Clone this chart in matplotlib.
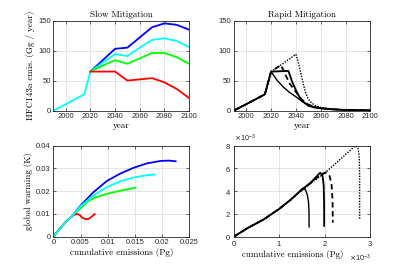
import numpy as np
import matplotlib.pyplot as plt
from matplotlib.ticker import ScalarFormatter

# ---- slow mitigation emissions (Gg / year) ----
years_hist = [1990, 2000, 2015, 2020]
emis_hist = [0, 10.5, 27, 65]
years_slow = [2020, 2030, 2040, 2050, 2060, 2070, 2080, 2090, 2100]
slow_blue = [65, 84, 103, 105, 122, 139, 145.5, 143, 135]
slow_cyan = [65, 80, 94, 91, 105, 118, 120.5, 116, 106]
slow_green = [65, 75, 84, 78, 87, 96, 96, 89, 78]
slow_red = [65, 65, 65, 50, 52, 54, 47, 36, 21]

# ---- rapid mitigation emissions (Gg / year) ----
rap1_years = [1990, 2000, 2015, 2020, 2025, 2030, 2035, 2040, 2045, 2050, 2055, 2060, 2070, 2080, 2090, 2100]
rap1 = [0, 10.5, 27, 65, 50, 39, 30, 23, 15, 9, 6, 4, 2, 1, 0.5, 0.3]
rap2_years = [1990, 2000, 2015, 2020, 2034, 2037, 2040, 2044, 2050, 2055, 2060, 2070, 2080, 2090, 2100]
rap2 = [0, 10.5, 27, 65, 66, 48, 34, 18, 8, 5, 3.5, 1.8, 0.9, 0.5, 0.3]
rap3_years = [1990, 2000, 2015, 2020, 2028, 2031, 2035, 2040, 2045, 2050, 2055, 2060, 2070, 2080, 2090, 2100]
rap3 = [0, 10.5, 27, 65, 76, 62, 45, 31, 18, 10, 6, 4, 2, 1, 0.5, 0.3]
rap4_years = [1990, 2000, 2015, 2020, 2030, 2040, 2042, 2044, 2046, 2048, 2050, 2053, 2056, 2060, 2070, 2080, 2090, 2100]
rap4 = [0, 10.5, 27, 65, 79, 94, 80, 62, 44, 29, 19, 12, 8, 5, 2.2, 1, 0.5, 0.3]

# ---- slow mitigation: warming (K) vs cumulative emissions (Pg) ----
trunk_x = [0, 0.0012, 0.00247, 0.0033]
trunk_y = [0, 0.0036, 0.0070, 0.0087]
cum_blue = [0.005, 0.00741, 0.00988, 0.01235, 0.01481, 0.01728, 0.01975, 0.0213, 0.02253]
warm_blue = [0.01368, 0.01963, 0.02454, 0.0278, 0.03033, 0.03227, 0.03331, 0.03346, 0.03316]
cum_cyan = [0.005, 0.00741, 0.00988, 0.01235, 0.01481, 0.01728, 0.01877]
warm_cyan = [0.01338, 0.01814, 0.02186, 0.02439, 0.02602, 0.02706, 0.02736]
cum_green = [0.005, 0.00617, 0.00741, 0.00988, 0.01235, 0.01512]
warm_green = [0.01249, 0.01517, 0.01695, 0.01888, 0.02022, 0.02156]
cum_red = [0.0038, 0.00432, 0.0048, 0.00525, 0.00586, 0.00648, 0.0070, 0.00759]
warm_red = [0.0096, 0.01, 0.0096, 0.0085, 0.0077, 0.0078, 0.0087, 0.0099]

# ---- rapid mitigation: warming vs cumulative emissions (both x 1e-3) ----
rtrunk_x = [0, 0.3, 0.65, 1.0, 1.25, 1.4]
rtrunk_y = [0, 0.75, 1.5, 2.45, 3.25, 3.8]
rcum1 = [1.48, 1.52, 1.57, 1.61, 1.64, 1.652, 1.654]
rwarm1 = [4.15, 4.27, 4.15, 3.75, 3.1, 2.3, 0.86]
rcum2 = [1.5, 1.7, 1.897, 1.95, 1.975, 1.985, 1.985]
rwarm2 = [4.15, 4.8, 5.63, 5.35, 4.5, 2.6, 0.95]
rcum3 = [1.5, 1.7, 1.9, 2.03, 2.10, 2.147, 2.17, 2.176]
rwarm3 = [4.12, 4.75, 5.45, 5.66, 5.39, 4.65, 3.17, 1.24]
rcum4 = [1.5, 1.7, 2.03, 2.35, 2.67, 2.73, 2.757, 2.765, 2.765]
rwarm4 = [4.1, 4.72, 5.7, 6.85, 8.0, 7.76, 7.02, 5.54, 1.54]

serif = 'cmr10'
plt.rcParams['font.family'] = ['Liberation Sans', 'DejaVu Sans']
plt.rcParams['font.size'] = 5.5
plt.rcParams['axes.unicode_minus'] = False

fig = plt.figure(figsize=(4.11, 2.65), dpi=100)
ax1 = fig.add_axes([0.130, 0.583, 0.330, 0.339])
ax2 = fig.add_axes([0.569, 0.583, 0.332, 0.339])
ax3 = fig.add_axes([0.130, 0.107, 0.330, 0.343])
ax4 = fig.add_axes([0.569, 0.107, 0.332, 0.343])

for ax in (ax1, ax2, ax3, ax4):
    ax.grid(True, color='0.88', linewidth=0.6)
    ax.set_axisbelow(True)
    ax.tick_params(direction='in', length=2.5, width=0.5, labelsize=5.5,
                   colors='0.15', pad=2, top=True, right=True)
    for s in ax.spines.values():
        s.set_linewidth(0.6)
        s.set_color('0.15')

lw = 1.3
ax1.plot(years_hist, emis_hist, color='cyan', lw=lw)
ax1.plot(years_slow, slow_blue, color='blue', lw=lw)
ax1.plot(years_slow, slow_cyan, color='cyan', lw=lw)
ax1.plot(years_slow, slow_green, color='lime', lw=lw)
ax1.plot(years_slow, slow_red, color='red', lw=lw)
ax1.set_xlim(1990, 2100)
ax1.set_ylim(0, 150)
ax1.set_xticks(range(2000, 2101, 20))
ax1.set_yticks([0, 50, 100, 150])
ax1.set_title('Slow Mitigation', fontfamily=serif, fontsize=6.5, pad=3)
ax1.set_xlabel('year', fontfamily=serif, fontsize=6.5, labelpad=1)
ax1.set_ylabel('HFC143a emis. (Gg / year)', fontfamily=serif, fontsize=6.5, labelpad=2)

ax2.plot(rap1_years, rap1, color='k', lw=1.0)
ax2.plot(rap2_years, rap2, color='k', lw=lw)
ax2.plot(rap3_years, rap3, color='k', lw=lw, ls=(0, (3, 2)))
ax2.plot(rap4_years, rap4, color='k', lw=1.0, ls=(0, (1, 1)))
ax2.set_xlim(1990, 2100)
ax2.set_ylim(0, 150)
ax2.set_xticks(range(2000, 2101, 20))
ax2.set_yticks([0, 50, 100, 150])
ax2.set_title('Rapid Mitigation', fontfamily=serif, fontsize=6.5, pad=3)
ax2.set_xlabel('year', fontfamily=serif, fontsize=6.5, labelpad=1)

ax3.plot(trunk_x + cum_blue, trunk_y + warm_blue, color='blue', lw=lw)
ax3.plot(trunk_x + cum_green, trunk_y + warm_green, color='lime', lw=lw)
ax3.plot(trunk_x + cum_red, trunk_y + warm_red, color='red', lw=lw)
ax3.plot(trunk_x + cum_cyan, trunk_y + warm_cyan, color='cyan', lw=lw)
ax3.set_xlim(0, 0.025)
ax3.set_ylim(0, 0.04)
ax3.set_xticks([0, 0.005, 0.01, 0.015, 0.02, 0.025])
ax3.set_xticklabels(['0', '0.005', '0.01', '0.015', '0.02', '0.025'])
ax3.set_yticks([0, 0.01, 0.02, 0.03, 0.04])
ax3.set_yticklabels(['0', '0.01', '0.02', '0.03', '0.04'])
ax3.set_xlabel('cumulative emissions (Pg)', fontfamily=serif, fontsize=6.5, labelpad=1)
ax3.set_ylabel('global warming (K)', fontfamily=serif, fontsize=6.5, labelpad=2)

scale = 1e-3
styles = [(1.0, '-'), (lw, '-'), (lw, (0, (3, 2))), (1.0, (0, (1, 1)))]
for (cx, wy), (w, ls) in zip([(rcum1, rwarm1), (rcum2, rwarm2), (rcum3, rwarm3), (rcum4, rwarm4)], styles):
    x = np.array(rtrunk_x + cx) * scale
    y = np.array(rtrunk_y + wy) * scale
    ax4.plot(x, y, color='k', lw=w, ls=ls)
ax4.set_xlim(0, 3e-3)
ax4.set_ylim(0, 8e-3)
ax4.set_xticks([0, 1e-3, 2e-3, 3e-3])
ax4.set_yticks([0, 2e-3, 4e-3, 6e-3, 8e-3])
for axis in (ax4.xaxis, ax4.yaxis):
    fmt = ScalarFormatter(useMathText=True)
    fmt.set_powerlimits((0, 0))
    axis.set_major_formatter(fmt)
ax4.xaxis.get_offset_text().set_fontsize(5.2)
ax4.yaxis.get_offset_text().set_fontsize(5.2)
ax4.set_xlabel('cumulative emissions (Pg)', fontfamily=serif, fontsize=6.3, labelpad=1)
ax4.xaxis.label.set_x(0.43)

fig.savefig('out.png', dpi=100)
